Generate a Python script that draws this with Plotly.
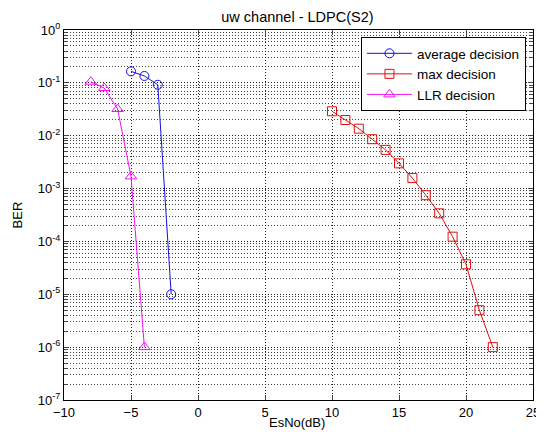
import plotly.graph_objects as go

avg_x = [-5, -4, -3, -2]
avg_y = [0.165, 0.135, 0.092, 1.0e-5]
max_x = [10, 11, 12, 13, 14, 15, 16, 17, 18, 19, 20, 21, 22]
max_y = [0.029, 0.0198, 0.0136, 0.0086, 0.0054, 0.0030, 0.00158, 7.5e-4, 3.4e-4, 1.23e-4, 3.7e-5, 5.0e-6, 1.0e-6]
llr_x = [-8, -7, -6, -5, -4]
llr_y = [0.105, 0.080, 0.032, 0.0017, 1.0e-6]

ytick_vals = [1e0, 1e-1, 1e-2, 1e-3, 1e-4, 1e-5, 1e-6, 1e-7]
ytick_text = ["10<sup>0</sup>", "10<sup>-1</sup>", "10<sup>-2</sup>", "10<sup>-3</sup>",
              "10<sup>-4</sup>", "10<sup>-5</sup>", "10<sup>-6</sup>", "10<sup>-7</sup>"]
xtick_vals = [-10, -5, 0, 5, 10, 15, 20, 25]

fig = go.Figure()
fig.add_trace(go.Scatter(x=avg_x, y=avg_y, mode="lines+markers", name="average decision",
                         line=dict(color="#1010e0", width=1),
                         marker=dict(symbol="circle-open", size=9, color="#1010e0", line=dict(width=1))))
fig.add_trace(go.Scatter(x=max_x, y=max_y, mode="lines+markers", name="max decision",
                         line=dict(color="#e01010", width=1),
                         marker=dict(symbol="square-open", size=9, color="#e01010", line=dict(width=1))))
fig.add_trace(go.Scatter(x=llr_x, y=llr_y, mode="lines+markers", name="LLR decision",
                         line=dict(color="#f010f0", width=1),
                         marker=dict(symbol="triangle-up-open", size=10, color="#f010f0", line=dict(width=1))))

font = "Liberation Sans, Arial, sans-serif"
grid_dash = "1px,2px"
# page body has an 8px default margin, so the figure is 8px smaller and offset
fig.update_layout(
    width=536, height=433,
    margin=dict(l=56, r=11, t=22, b=41),
    paper_bgcolor="white", plot_bgcolor="white",
    font=dict(family=font, size=13, color="black"),
    title=dict(text="uw channel - LDPC(S2)", x=0.54, xanchor="center", y=0.979, yanchor="middle",
               font=dict(size=14.5)),
    showlegend=True,
    legend=dict(x=0.985, y=0.981, xanchor="right", yanchor="top",
                bgcolor="white", bordercolor="black", borderwidth=1,
                font=dict(size=13.5), tracegroupgap=0, itemwidth=45),
    xaxis=dict(range=[-10, 25], tickvals=xtick_vals, ticks="inside", ticklen=5,
               showline=True, linecolor="black", linewidth=1, mirror="ticks",
               showgrid=True, gridcolor="#222222", griddash=grid_dash, gridwidth=1,
               zeroline=False, automargin=False),
    yaxis=dict(type="log", range=[-7, 0], tickvals=ytick_vals, ticktext=ytick_text,
               ticks="inside", ticklen=5,
               showline=True, linecolor="black", linewidth=1, mirror="ticks",
               showgrid=True, gridcolor="#222222", griddash=grid_dash, gridwidth=1,
               zeroline=False, automargin=False,
               title=dict(text="BER", standoff=12, font=dict(size=13)),
               minor=dict(dtick="D1", showgrid=True, gridcolor="#444444", griddash=grid_dash,
                          gridwidth=1, ticks="inside", ticklen=3)),
    annotations=[dict(text="EsNo(dB)", xref="paper", yref="paper", x=0.496, y=-0.0595,
                      xanchor="center", yanchor="middle", showarrow=False,
                      font=dict(size=13))],
)

fig.write_html("out.html")
